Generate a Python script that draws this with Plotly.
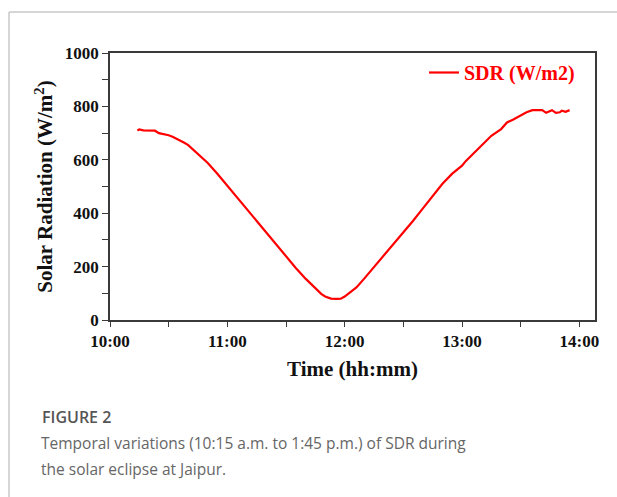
import plotly.graph_objects as go

# ---- data ----
day = "2020-06-21 "
times = ["10:14", "10:15", "10:17", "10:20", "10:23", "10:25", "10:27", "10:30", "10:32",
         "10:35", "10:38", "10:40", "10:45", "10:50", "10:55", "11:00", "11:05", "11:10",
         "11:15", "11:20", "11:25", "11:30", "11:35", "11:40", "11:45", "11:48", "11:50",
         "11:53", "11:56", "11:58", "12:00", "12:03", "12:06", "12:10", "12:15", "12:20",
         "12:25", "12:30", "12:35", "12:40", "12:45", "12:50", "12:55", "12:58", "13:00",
         "13:02", "13:05", "13:10", "13:15", "13:20", "13:23", "13:26", "13:30", "13:33",
         "13:36", "13:40", "13:41", "13:43", "13:45", "13:46", "13:48", "13:50", "13:51",
         "13:53", "13:55"]
sdr = [710, 714, 710, 710, 709, 700, 697, 692, 686,
       676, 664, 655, 622, 588, 547, 503, 461, 418,
       370, 327, 285, 238, 195, 155, 118, 98, 88,
       80, 79, 80, 88, 105, 122, 155, 198, 240,
       285, 330, 372, 418, 465, 510, 548, 567, 578,
       596, 618, 652, 690, 715, 740, 750, 767, 778,
       786, 786, 786, 776, 784, 786, 776, 778, 784,
       780, 786]
series_name = "SDR (W/m2)"
x_range = ["10:00", "14:08"]
y_range = [0, 1000]
caption_title = "FIGURE 2"
caption_lines = ["Temporal variations (10:15 a.m. to 1:45 p.m.) of SDR during",
                 "the solar eclipse at Jaipur."]

serif = "Liberation Serif, Times New Roman, serif"
axis_col = "#3a3a3a"
PW, PH, L, B = 485, 267, 110, 177  # plot area size and margins (pixels)

fig = go.Figure()
fig.add_trace(go.Scatter(
    x=[day + t for t in times], y=sdr, mode="lines", name=series_name,
    line=dict(color="#ff0000", width=2.2),
))

fig.update_layout(
    width=617, height=497,
    margin=dict(l=L, r=22, t=53, b=B),
    paper_bgcolor="white", plot_bgcolor="white",
    showlegend=True,
    legend=dict(x=(424 - L) / PW, y=1, xanchor="left", yanchor="top",
                bgcolor="rgba(0,0,0,0)",
                font=dict(family=serif, size=20, color="#ff0000", weight="bold"),
                itemwidth=30, tracegroupgap=0),
    xaxis=dict(
        type="date", range=[day + x_range[0], day + x_range[1]],
        dtick=3600000, tick0=day + "10:00", tickformat="%H:%M",
        ticks="outside", ticklen=5, tickwidth=1.2, tickcolor=axis_col,
        minor=dict(dtick=1800000, tick0=day + "10:00", ticks="outside", ticklen=5,
                   tickwidth=1.2, tickcolor=axis_col, showgrid=False),
        showgrid=False, zeroline=False,
        showline=True, linecolor=axis_col, linewidth=1.5, mirror=True,
        tickfont=dict(family=serif, size=17, color="#111", weight="bold"),
        title=dict(text="Time (hh:mm)", standoff=11,
                   font=dict(family=serif, size=21, color="#111", weight="bold")),
    ),
    yaxis=dict(
        range=y_range, dtick=200, tick0=0,
        ticks="outside", ticklen=6, tickwidth=1.2, tickcolor=axis_col,
        minor=dict(dtick=100, ticks="outside", ticklen=6, tickwidth=1.2,
                   tickcolor=axis_col, showgrid=False),
        showgrid=False, zeroline=False,
        showline=True, linecolor=axis_col, linewidth=1.5, mirror=True,
        tickfont=dict(family=serif, size=17, color="#111", weight="bold"),
        title=dict(text="Solar Radiation (W/m<sup>2</sup>)", standoff=6,
                   font=dict(family=serif, size=21, color="#111", weight="bold")),
    ),
)

# page frame (thin gray lines at top and left)
fig.add_shape(type="line", xref="paper", yref="paper",
              x0=(9 - L) / PW, x1=1 + 22 / PW, y0=1 + 41 / PH, y1=1 + 41 / PH,
              line=dict(color="#c8c8c8", width=1.5))
fig.add_shape(type="line", xref="paper", yref="paper",
              x0=(9 - L) / PW, x1=(9 - L) / PW, y0=1 + 41 / PH, y1=-B / PH,
              line=dict(color="#c8c8c8", width=1.5))

# caption
cap_font = "Open Sans, sans-serif"
fig.add_annotation(xref="paper", yref="paper", x=(40 - L) / PW, y=-(417 - 320) / PH,
                   xanchor="left", yanchor="middle", showarrow=False,
                   text=caption_title,
                   font=dict(family=cap_font, size=16, color="#555", weight=600))
for i, line in enumerate(caption_lines):
    fig.add_annotation(xref="paper", yref="paper", x=(39 - L) / PW,
                       y=-(443 + 26 * i - 320) / PH,
                       xanchor="left", yanchor="middle", showarrow=False,
                       text=line,
                       font=dict(family=cap_font, size=15.5, color="#666"))

fig.write_html("out.html")
